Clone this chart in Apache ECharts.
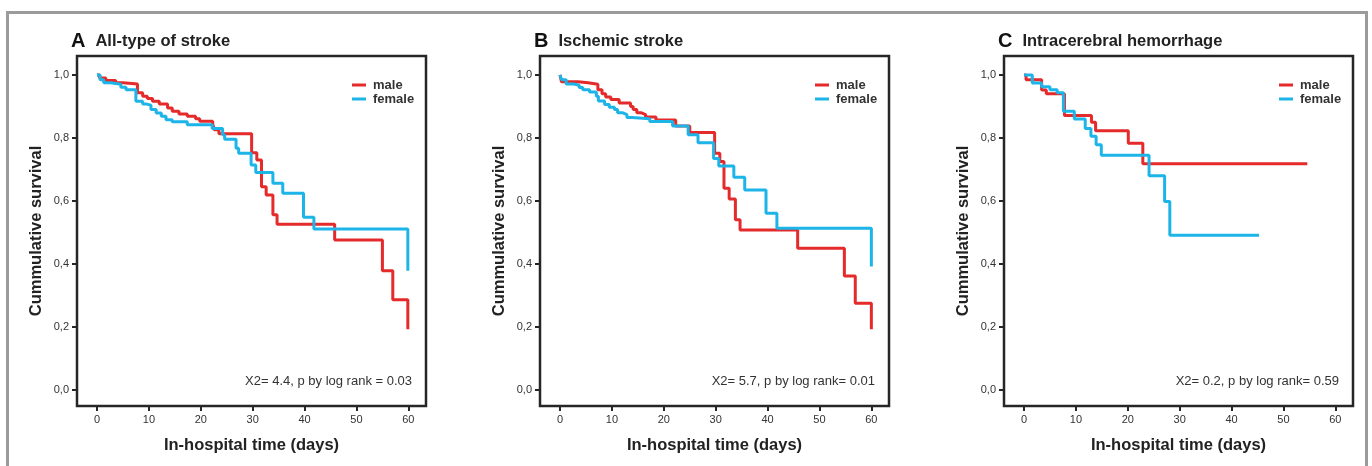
<!DOCTYPE html>
<html>
<head>
<meta charset="utf-8">
<script src="https://cdn.jsdelivr.net/npm/echarts@6/dist/echarts.min.js"></script>
<style>
  html, body { margin: 0; padding: 0; background: #fff; }
  #main { width: 1372px; height: 466px; }
</style>
</head>
<body>
<div id="main"></div>
<script>
// Kaplan-Meier steps: [day, cumulative survival]
var maleA = [[0, 1], [0.5, 0.99], [1.7, 0.982], [3.6, 0.975], [5, 0.971], [7.8, 0.943], [8.8, 0.932], [9.7, 0.925], [10.7, 0.916], [12, 0.908], [13.6, 0.895], [14.5, 0.885], [15.8, 0.876], [17.4, 0.869], [19, 0.861], [19.8, 0.853], [22.3, 0.844], [22.6, 0.826], [23.5, 0.813], [29.8, 0.753], [30.8, 0.73], [31.7, 0.645], [32.6, 0.619], [33.9, 0.556], [34.7, 0.526], [45.8, 0.476], [55, 0.378], [57, 0.286], [59.9, 0.193]]
var femaleA = [[0, 1], [0.6, 0.985], [1.3, 0.975], [2.6, 0.97], [4.6, 0.961], [5.6, 0.953], [7.5, 0.916], [8.8, 0.908], [9.4, 0.904], [10.4, 0.89], [11.4, 0.879], [12.4, 0.869], [13.3, 0.858], [14.5, 0.851], [17.4, 0.842], [22.2, 0.83], [24.2, 0.81], [24.6, 0.796], [26.8, 0.767], [27.3, 0.751], [29.7, 0.714], [30.6, 0.69], [33.9, 0.656], [35.8, 0.624], [39.8, 0.548], [41.8, 0.511], [59.9, 0.378]]

var maleB = [[0, 1], [0.3, 0.978], [3.5, 0.975], [5.4, 0.97], [7.3, 0.953], [8.1, 0.94], [8.8, 0.93], [9.8, 0.922], [11.4, 0.911], [13.6, 0.9], [14.1, 0.89], [14.8, 0.88], [15.6, 0.874], [16.5, 0.866], [18.5, 0.857], [22.3, 0.838], [25, 0.817], [29.8, 0.751], [30.8, 0.725], [31.6, 0.64], [32.6, 0.606], [33.8, 0.54], [34.7, 0.508], [45.8, 0.45], [54.8, 0.362], [56.9, 0.275], [60, 0.193]]
var femaleB = [[0, 1], [0.3, 0.985], [1.2, 0.971], [2.7, 0.967], [3.7, 0.96], [4.4, 0.953], [5.7, 0.946], [7, 0.932], [7.4, 0.917], [8.6, 0.906], [9.5, 0.897], [10.5, 0.89], [11.1, 0.88], [12, 0.874], [12.9, 0.865], [13.9, 0.861], [17.3, 0.852], [21.7, 0.838], [24.7, 0.81], [26.6, 0.785], [29.6, 0.735], [30.6, 0.711], [33.5, 0.675], [35.6, 0.635], [39.7, 0.561], [41.8, 0.513], [60, 0.392]]

var maleC = [[0, 1], [0.4, 0.985], [3.4, 0.952], [4.3, 0.94], [7.8, 0.871], [13, 0.85], [13.8, 0.823], [20.1, 0.783], [22.9, 0.718], [54.6, 0.718]]
var femaleC = [[0, 1], [1.6, 0.974], [3.4, 0.962], [5, 0.953], [6.4, 0.943], [7.6, 0.885], [9.7, 0.86], [11.8, 0.83], [12.9, 0.805], [13.9, 0.778], [14.9, 0.745], [24.1, 0.68], [27.1, 0.598], [28.1, 0.491], [45.3, 0.491]]

var xTicks = [0, 10, 20, 30, 40, 50, 60]
var yTicks = [0, 0.2, 0.4, 0.6, 0.8, 1.0]

var letters = ['A', 'B', 'C']
var titles = ['All-type of stroke', 'Ischemic stroke', 'Intracerebral hemorrhage']
var stats = ['X2= 4.4, p by log rank = 0.03', 'X2= 5.7, p by log rank= 0.01', 'X2= 0.2, p by log rank= 0.59']
var males = [maleA, maleB, maleC]
var females = [femaleA, femaleB, femaleC]

var RED = '#e42a2a'
var BLUE = '#1db4e8'
var FONT = 'Liberation Sans, Arial, sans-serif'

var gridLeft = [77, 540, 1004]
var gridW = 349
var gridTop = 56
var gridH = 350

var chart = echarts.init(document.getElementById('main'))

var grids = [], xAxes = [], yAxes = [], series = [], titleList = [], graphics = []

// outer grey frame
graphics.push({
  type: 'rect',
  shape: { x: 7.5, y: 12.5, width: 1359, height: 480 },
  style: { fill: 'none', stroke: '#9b9b9b', lineWidth: 3 },
  silent: true
})

for (var i = 0; i < 3; i++) {
  grids.push({
    left: gridLeft[i], top: gridTop, width: gridW, height: gridH,
    show: true, borderColor: '#262626', borderWidth: 2.5, backgroundColor: 'transparent'
  })
  xAxes.push({
    type: 'value', gridIndex: i, min: -3.85, max: 63.4,
    name: 'In-hospital time (days)', nameLocation: 'middle', nameGap: 31,
    nameTextStyle: { fontFamily: FONT, fontWeight: 'bold', fontSize: 16.5, color: '#222' },
    axisLine: { show: false, onZero: false },
    splitLine: { show: false },
    axisTick: { show: true, length: 5, customValues: xTicks, lineStyle: { color: '#262626', width: 2 } },
    axisLabel: { customValues: xTicks, margin: 8, fontFamily: FONT, fontSize: 11, color: '#333' }
  })
  yAxes.push({
    type: 'value', gridIndex: i, min: -0.051, max: 1.06,
    name: 'Cummulative survival', nameLocation: 'middle', nameGap: 32,
    nameTextStyle: { fontFamily: FONT, fontWeight: 'bold', fontSize: 16.5, color: '#222' },
    axisLine: { show: false, onZero: false },
    splitLine: { show: false },
    axisTick: { show: true, length: 5, customValues: yTicks, lineStyle: { color: '#262626', width: 2 } },
    axisLabel: {
      customValues: yTicks, margin: 8, fontFamily: FONT, fontSize: 11, color: '#333',
      formatter: function (v) { return v.toFixed(1).replace('.', ',') }
    }
  })
  series.push({
    name: 'male', type: 'line', step: 'end', xAxisIndex: i, yAxisIndex: i,
    showSymbol: false, symbol: 'none', data: males[i],
    lineStyle: { color: RED, width: 3 }, itemStyle: { color: RED }, z: 2
  })
  series.push({
    name: 'female', type: 'line', step: 'end', xAxisIndex: i, yAxisIndex: i,
    showSymbol: false, symbol: 'none', data: females[i],
    lineStyle: { color: BLUE, width: 3 }, itemStyle: { color: BLUE }, z: 3
  })
  titleList.push({
    text: '{l|' + letters[i] + '}  {t|' + titles[i] + '}',
    left: gridLeft[i] - 11, top: 26,
    textStyle: {
      rich: {
        l: { fontFamily: FONT, fontWeight: 'bold', fontSize: 20, color: '#111' },
        t: { fontFamily: FONT, fontWeight: 'bold', fontSize: 16.5, color: '#222' }
      }
    }
  })
  graphics.push({
    type: 'text',
    x: gridLeft[i] + gridW - 14, y: 381,
    style: {
      text: stats[i], align: 'right', verticalAlign: 'middle',
      font: '13px ' + FONT, fill: '#333'
    },
    silent: true
  })
  // legend: short coloured dashes with bold labels
  var lx = gridLeft[i] + 275
  graphics.push({ type: 'line', shape: { x1: lx, y1: 85, x2: lx + 14, y2: 85 }, style: { stroke: RED, lineWidth: 3 }, silent: true })
  graphics.push({ type: 'line', shape: { x1: lx, y1: 99, x2: lx + 14, y2: 99 }, style: { stroke: BLUE, lineWidth: 3 }, silent: true })
  graphics.push({ type: 'text', x: lx + 21, y: 85, style: { text: 'male', verticalAlign: 'middle', font: 'bold 13px ' + FONT, fill: '#333' }, silent: true })
  graphics.push({ type: 'text', x: lx + 21, y: 99, style: { text: 'female', verticalAlign: 'middle', font: 'bold 13px ' + FONT, fill: '#333' }, silent: true })
}

chart.setOption({
  animation: false,
  backgroundColor: '#fff',
  title: titleList,
  grid: grids,
  xAxis: xAxes,
  yAxis: yAxes,
  series: series,
  graphic: graphics
})
</script>
</body>
</html>
